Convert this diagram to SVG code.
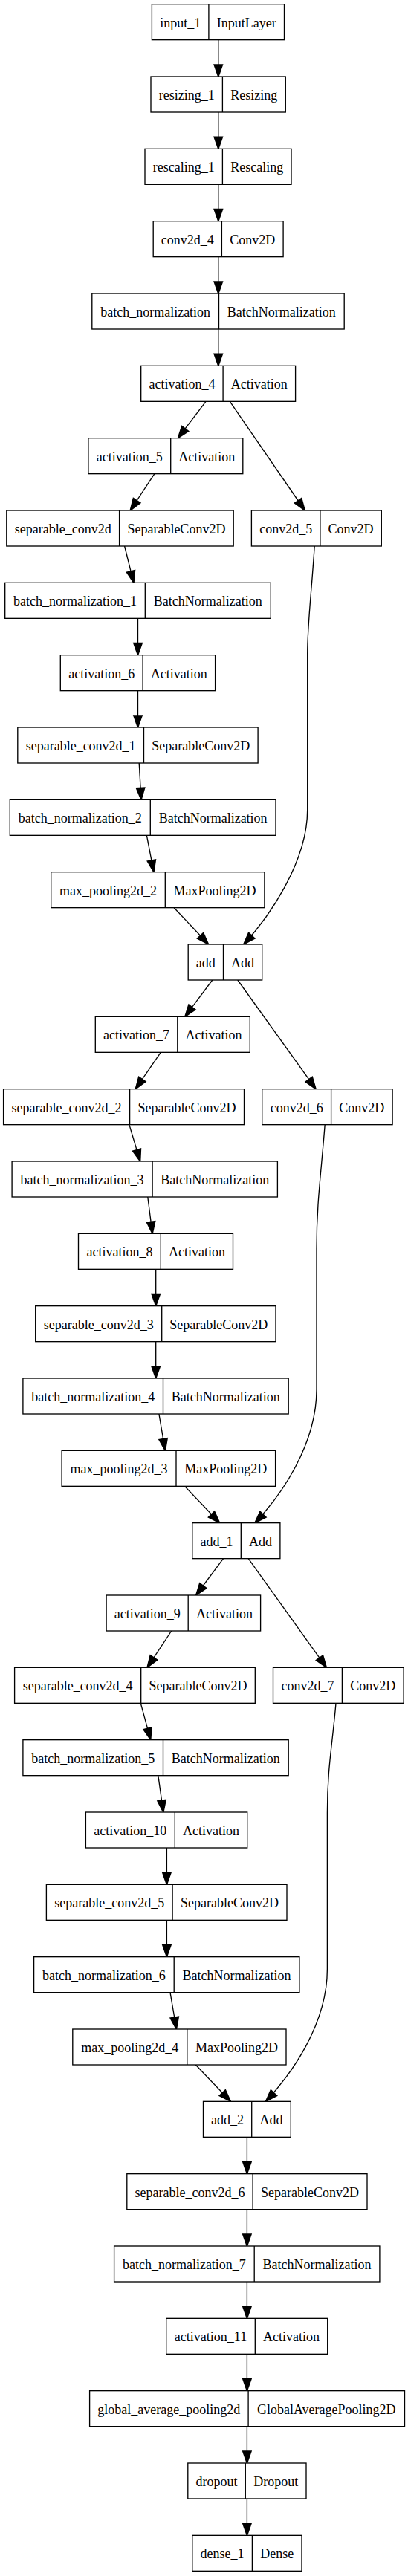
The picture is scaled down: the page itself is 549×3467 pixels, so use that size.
<svg xmlns="http://www.w3.org/2000/svg" width="549" height="3467" viewBox="0 0 549 3467">
<style>
.b{fill:#fff;stroke:#000;stroke-width:1.33}
.d{stroke:#000;stroke-width:1.33}
.t{font-family:"Liberation Serif","Times New Roman",serif;font-size:18px;text-anchor:middle;fill:#000}
.e{fill:none;stroke:#000;stroke-width:1.33;marker-end:url(#ah)}
</style>
<defs>
<marker id="ah" markerUnits="userSpaceOnUse" markerWidth="16" markerHeight="12" refX="13.3" refY="4.67" orient="auto" viewBox="0 0 13.3 9.33" overflow="visible">
<path d="M0,0 L13.3,4.67 L0,9.33 Z" fill="#000" stroke="#000" stroke-width="1.33"/>
</marker>
</defs>
<rect x="0" y="0" width="549" height="3467" fill="#fff"/>
<g id="connectors">
<path class="e" d="M293.8,53.67 L293.8,103"/>
<path class="e" d="M293.8,151 L293.8,200.33"/>
<path class="e" d="M293.8,248.33 L293.8,297.67"/>
<path class="e" d="M293.8,345.67 L293.8,395"/>
<path class="e" d="M293.8,443 L293.8,492.33"/>
<path class="e" d="M277,540.33 L239.5,589.67"/>
<path class="e" d="M309.3,540.33 L410.2,687"/>
<path class="e" d="M207.9,637.67 L175.3,687"/>
<path class="e" d="M167.6,735 L179.9,784.33"/>
<path class="e" d="M185.5,832.33 L185.5,881.67"/>
<path class="e" d="M185.5,929.67 L185.5,979"/>
<path class="e" d="M187.2,1027 L190,1076.33"/>
<path class="e" d="M197.4,1124.33 L206.9,1173.67"/>
<path class="e" d="M234.2,1221.67 L280.5,1271"/>
<path class="e" d="M423.2,735 C419,800 413.7,840 413.7,880 L413.7,1090 C413.7,1160 361.8,1234.5 327.8,1271"/>
<path class="e" d="M285.8,1319 L248.9,1368.33"/>
<path class="e" d="M319.8,1319 L425,1465.67"/>
<path class="e" d="M216.3,1416.33 L182.3,1465.67"/>
<path class="e" d="M173.9,1513.67 L188.6,1563"/>
<path class="e" d="M198.8,1611 L205.1,1660.33"/>
<path class="e" d="M209.7,1708.33 L209.7,1757.67"/>
<path class="e" d="M209.7,1805.67 L209.7,1855"/>
<path class="e" d="M213.9,1903 L222.3,1952.33"/>
<path class="e" d="M248.6,2000.33 L295.6,2049.67"/>
<path class="e" d="M437.2,1513.67 C432,1580 426,1620 426,1680 L426,1870 C426,1945 377.4,2013.7 342.9,2049.67"/>
<path class="e" d="M300.5,2097.67 L263.7,2147"/>
<path class="e" d="M334.2,2097.67 L439.3,2244.33"/>
<path class="e" d="M230.7,2195 L198.1,2244.33"/>
<path class="e" d="M189.3,2292.33 L202.7,2341.67"/>
<path class="e" d="M212.8,2389.67 L219.8,2439"/>
<path class="e" d="M224.4,2487 L224.4,2536.33"/>
<path class="e" d="M224.4,2584.33 L224.4,2633.67"/>
<path class="e" d="M229,2681.67 L237.4,2731"/>
<path class="e" d="M263.3,2779 L310.3,2828.33"/>
<path class="e" d="M452,2292.33 C447,2350 440.4,2380 440.4,2440 L440.4,2650 C440.4,2725 391.6,2791.8 357.6,2828.33"/>
<path class="e" d="M332.4,2876.33 L332.4,2925.67"/>
<path class="e" d="M332.4,2973.67 L332.4,3023"/>
<path class="e" d="M332.4,3071 L332.4,3120.33"/>
<path class="e" d="M332.4,3168.33 L332.4,3217.67"/>
<path class="e" d="M332.4,3265.67 L332.4,3315"/>
<path class="e" d="M332.4,3363 L332.4,3412.33"/>
</g>
<g id="input_1"><rect class="b" x="204.4" y="5.67" width="178.1" height="48"/><line class="d" x1="280.9" y1="5.67" x2="280.9" y2="53.67"/><text class="t" x="242.65" y="36.67">input_1</text><text class="t" x="331.7" y="36.67">InputLayer</text></g>
<g id="resizing_1"><rect class="b" x="203" y="103" width="181.3" height="48"/><line class="d" x1="299.4" y1="103" x2="299.4" y2="151"/><text class="t" x="251.2" y="134">resizing_1</text><text class="t" x="341.85" y="134">Resizing</text></g>
<g id="rescaling_1"><rect class="b" x="195" y="200.33" width="197" height="48"/><line class="d" x1="299.4" y1="200.33" x2="299.4" y2="248.33"/><text class="t" x="247.2" y="231.33">rescaling_1</text><text class="t" x="345.7" y="231.33">Rescaling</text></g>
<g id="conv2d_4"><rect class="b" x="206.2" y="297.67" width="174.9" height="48"/><line class="d" x1="298.4" y1="297.67" x2="298.4" y2="345.67"/><text class="t" x="252.3" y="328.67">conv2d_4</text><text class="t" x="339.75" y="328.67">Conv2D</text></g>
<g id="batch_normalization"><rect class="b" x="123.8" y="395" width="339.4" height="48"/><line class="d" x1="294.5" y1="395" x2="294.5" y2="443"/><text class="t" x="209.15" y="426">batch_normalization</text><text class="t" x="378.85" y="426">BatchNormalization</text></g>
<g id="activation_4"><rect class="b" x="189.7" y="492.33" width="207.9" height="48"/><line class="d" x1="300.1" y1="492.33" x2="300.1" y2="540.33"/><text class="t" x="244.9" y="523.33">activation_4</text><text class="t" x="348.85" y="523.33">Activation</text></g>
<g id="activation_5"><rect class="b" x="118.9" y="589.67" width="207.9" height="48"/><line class="d" x1="229.7" y1="589.67" x2="229.7" y2="637.67"/><text class="t" x="174.3" y="620.67">activation_5</text><text class="t" x="278.25" y="620.67">Activation</text></g>
<g id="separable_conv2d"><rect class="b" x="8.8" y="687" width="305.4" height="48"/><line class="d" x1="160.6" y1="687" x2="160.6" y2="735"/><text class="t" x="84.7" y="718">separable_conv2d</text><text class="t" x="237.4" y="718">SeparableConv2D</text></g>
<g id="conv2d_5"><rect class="b" x="338.4" y="687" width="174.9" height="48"/><line class="d" x1="430.9" y1="687" x2="430.9" y2="735"/><text class="t" x="384.65" y="718">conv2d_5</text><text class="t" x="472.1" y="718">Conv2D</text></g>
<g id="batch_normalization_1"><rect class="b" x="6.7" y="784.33" width="357.6" height="48"/><line class="d" x1="195.3" y1="784.33" x2="195.3" y2="832.33"/><text class="t" x="101" y="815.33">batch_normalization_1</text><text class="t" x="279.8" y="815.33">BatchNormalization</text></g>
<g id="activation_6"><rect class="b" x="81.3" y="881.67" width="208.3" height="48"/><line class="d" x1="192.1" y1="881.67" x2="192.1" y2="929.67"/><text class="t" x="136.7" y="912.67">activation_6</text><text class="t" x="240.85" y="912.67">Activation</text></g>
<g id="separable_conv2d_1"><rect class="b" x="23.8" y="979" width="323.3" height="48"/><line class="d" x1="193.5" y1="979" x2="193.5" y2="1027"/><text class="t" x="108.65" y="1010">separable_conv2d_1</text><text class="t" x="270.3" y="1010">SeparableConv2D</text></g>
<g id="batch_normalization_2"><rect class="b" x="13.3" y="1076.33" width="357.7" height="48"/><line class="d" x1="202.3" y1="1076.33" x2="202.3" y2="1124.33"/><text class="t" x="107.8" y="1107.33">batch_normalization_2</text><text class="t" x="286.65" y="1107.33">BatchNormalization</text></g>
<g id="max_pooling2d_2"><rect class="b" x="68.7" y="1173.67" width="287.2" height="48"/><line class="d" x1="222.3" y1="1173.67" x2="222.3" y2="1221.67"/><text class="t" x="145.5" y="1204.67">max_pooling2d_2</text><text class="t" x="289.1" y="1204.67">MaxPooling2D</text></g>
<g id="add"><rect class="b" x="253.2" y="1271" width="99.5" height="48"/><line class="d" x1="300.5" y1="1271" x2="300.5" y2="1319"/><text class="t" x="276.85" y="1302">add</text><text class="t" x="326.6" y="1302">Add</text></g>
<g id="activation_7"><rect class="b" x="128.3" y="1368.33" width="208" height="48"/><line class="d" x1="238.8" y1="1368.33" x2="238.8" y2="1416.33"/><text class="t" x="183.55" y="1399.33">activation_7</text><text class="t" x="287.55" y="1399.33">Activation</text></g>
<g id="separable_conv2d_2"><rect class="b" x="4.6" y="1465.67" width="323.9" height="48"/><line class="d" x1="174.6" y1="1465.67" x2="174.6" y2="1513.67"/><text class="t" x="89.6" y="1496.67">separable_conv2d_2</text><text class="t" x="251.55" y="1496.67">SeparableConv2D</text></g>
<g id="conv2d_6"><rect class="b" x="352.7" y="1465.67" width="175.4" height="48"/><line class="d" x1="445.6" y1="1465.67" x2="445.6" y2="1513.67"/><text class="t" x="399.15" y="1496.67">conv2d_6</text><text class="t" x="486.85" y="1496.67">Conv2D</text></g>
<g id="batch_normalization_3"><rect class="b" x="16.1" y="1563" width="357.3" height="48"/><line class="d" x1="205.1" y1="1563" x2="205.1" y2="1611"/><text class="t" x="110.6" y="1594">batch_normalization_3</text><text class="t" x="289.25" y="1594">BatchNormalization</text></g>
<g id="activation_8"><rect class="b" x="105.5" y="1660.33" width="208" height="48"/><line class="d" x1="216.3" y1="1660.33" x2="216.3" y2="1708.33"/><text class="t" x="160.9" y="1691.33">activation_8</text><text class="t" x="264.9" y="1691.33">Activation</text></g>
<g id="separable_conv2d_3"><rect class="b" x="47.7" y="1757.67" width="323.3" height="48"/><line class="d" x1="217.7" y1="1757.67" x2="217.7" y2="1805.67"/><text class="t" x="132.7" y="1788.67">separable_conv2d_3</text><text class="t" x="294.35" y="1788.67">SeparableConv2D</text></g>
<g id="batch_normalization_4"><rect class="b" x="30.9" y="1855" width="357.3" height="48"/><line class="d" x1="219.5" y1="1855" x2="219.5" y2="1903"/><text class="t" x="125.2" y="1886">batch_normalization_4</text><text class="t" x="303.85" y="1886">BatchNormalization</text></g>
<g id="max_pooling2d_3"><rect class="b" x="83.1" y="1952.33" width="287.5" height="48"/><line class="d" x1="237" y1="1952.33" x2="237" y2="2000.33"/><text class="t" x="160.05" y="1983.33">max_pooling2d_3</text><text class="t" x="303.8" y="1983.33">MaxPooling2D</text></g>
<g id="add_1"><rect class="b" x="258.8" y="2049.67" width="118.1" height="48"/><line class="d" x1="324.3" y1="2049.67" x2="324.3" y2="2097.67"/><text class="t" x="291.55" y="2080.67">add_1</text><text class="t" x="350.6" y="2080.67">Add</text></g>
<g id="activation_9"><rect class="b" x="143.1" y="2147" width="207.5" height="48"/><line class="d" x1="253.2" y1="2147" x2="253.2" y2="2195"/><text class="t" x="198.15" y="2178">activation_9</text><text class="t" x="301.9" y="2178">Activation</text></g>
<g id="separable_conv2d_4"><rect class="b" x="19.6" y="2244.33" width="323.7" height="48"/><line class="d" x1="189.7" y1="2244.33" x2="189.7" y2="2292.33"/><text class="t" x="104.65" y="2275.33">separable_conv2d_4</text><text class="t" x="266.5" y="2275.33">SeparableConv2D</text></g>
<g id="conv2d_7"><rect class="b" x="367.5" y="2244.33" width="175.6" height="48"/><line class="d" x1="460.4" y1="2244.33" x2="460.4" y2="2292.33"/><text class="t" x="413.95" y="2275.33">conv2d_7</text><text class="t" x="501.75" y="2275.33">Conv2D</text></g>
<g id="batch_normalization_5"><rect class="b" x="30.9" y="2341.67" width="357.3" height="48"/><line class="d" x1="219.5" y1="2341.67" x2="219.5" y2="2389.67"/><text class="t" x="125.2" y="2372.67">batch_normalization_5</text><text class="t" x="303.85" y="2372.67">BatchNormalization</text></g>
<g id="activation_10"><rect class="b" x="115.4" y="2439" width="217.3" height="48"/><line class="d" x1="235.3" y1="2439" x2="235.3" y2="2487"/><text class="t" x="175.35" y="2470">activation_10</text><text class="t" x="284" y="2470">Activation</text></g>
<g id="separable_conv2d_5"><rect class="b" x="62.4" y="2536.33" width="323.6" height="48"/><line class="d" x1="232.1" y1="2536.33" x2="232.1" y2="2584.33"/><text class="t" x="147.25" y="2567.33">separable_conv2d_5</text><text class="t" x="309.05" y="2567.33">SeparableConv2D</text></g>
<g id="batch_normalization_6"><rect class="b" x="45.6" y="2633.67" width="357.3" height="48"/><line class="d" x1="234.2" y1="2633.67" x2="234.2" y2="2681.67"/><text class="t" x="139.9" y="2664.67">batch_normalization_6</text><text class="t" x="318.55" y="2664.67">BatchNormalization</text></g>
<g id="max_pooling2d_4"><rect class="b" x="97.8" y="2731" width="287.2" height="48"/><line class="d" x1="251.8" y1="2731" x2="251.8" y2="2779"/><text class="t" x="174.8" y="2762">max_pooling2d_4</text><text class="t" x="318.4" y="2762">MaxPooling2D</text></g>
<g id="add_2"><rect class="b" x="273.5" y="2828.33" width="117.8" height="48"/><line class="d" x1="338.7" y1="2828.33" x2="338.7" y2="2876.33"/><text class="t" x="306.1" y="2859.33">add_2</text><text class="t" x="365" y="2859.33">Add</text></g>
<g id="separable_conv2d_6"><rect class="b" x="170.8" y="2925.67" width="323.2" height="48"/><line class="d" x1="340.1" y1="2925.67" x2="340.1" y2="2973.67"/><text class="t" x="255.45" y="2956.67">separable_conv2d_6</text><text class="t" x="417.05" y="2956.67">SeparableConv2D</text></g>
<g id="batch_normalization_7"><rect class="b" x="153.6" y="3023" width="357.3" height="48"/><line class="d" x1="342.2" y1="3023" x2="342.2" y2="3071"/><text class="t" x="247.9" y="3054">batch_normalization_7</text><text class="t" x="426.55" y="3054">BatchNormalization</text></g>
<g id="activation_11"><rect class="b" x="223.7" y="3120.33" width="217" height="48"/><line class="d" x1="343.3" y1="3120.33" x2="343.3" y2="3168.33"/><text class="t" x="283.5" y="3151.33">activation_11</text><text class="t" x="392" y="3151.33">Activation</text></g>
<g id="global_average_pooling2d"><rect class="b" x="120.6" y="3217.67" width="423.9" height="48"/><line class="d" x1="334.1" y1="3217.67" x2="334.1" y2="3265.67"/><text class="t" x="227.35" y="3248.67">global_average_pooling2d</text><text class="t" x="439.3" y="3248.67">GlobalAveragePooling2D</text></g>
<g id="dropout"><rect class="b" x="252.8" y="3315" width="159.2" height="48"/><line class="d" x1="330.3" y1="3315" x2="330.3" y2="3363"/><text class="t" x="291.55" y="3346">dropout</text><text class="t" x="371.15" y="3346">Dropout</text></g>
<g id="dense_1"><rect class="b" x="258.8" y="3412.33" width="147.2" height="48"/><line class="d" x1="339.4" y1="3412.33" x2="339.4" y2="3460.33"/><text class="t" x="299.1" y="3443.33">dense_1</text><text class="t" x="372.7" y="3443.33">Dense</text></g>
</svg>
